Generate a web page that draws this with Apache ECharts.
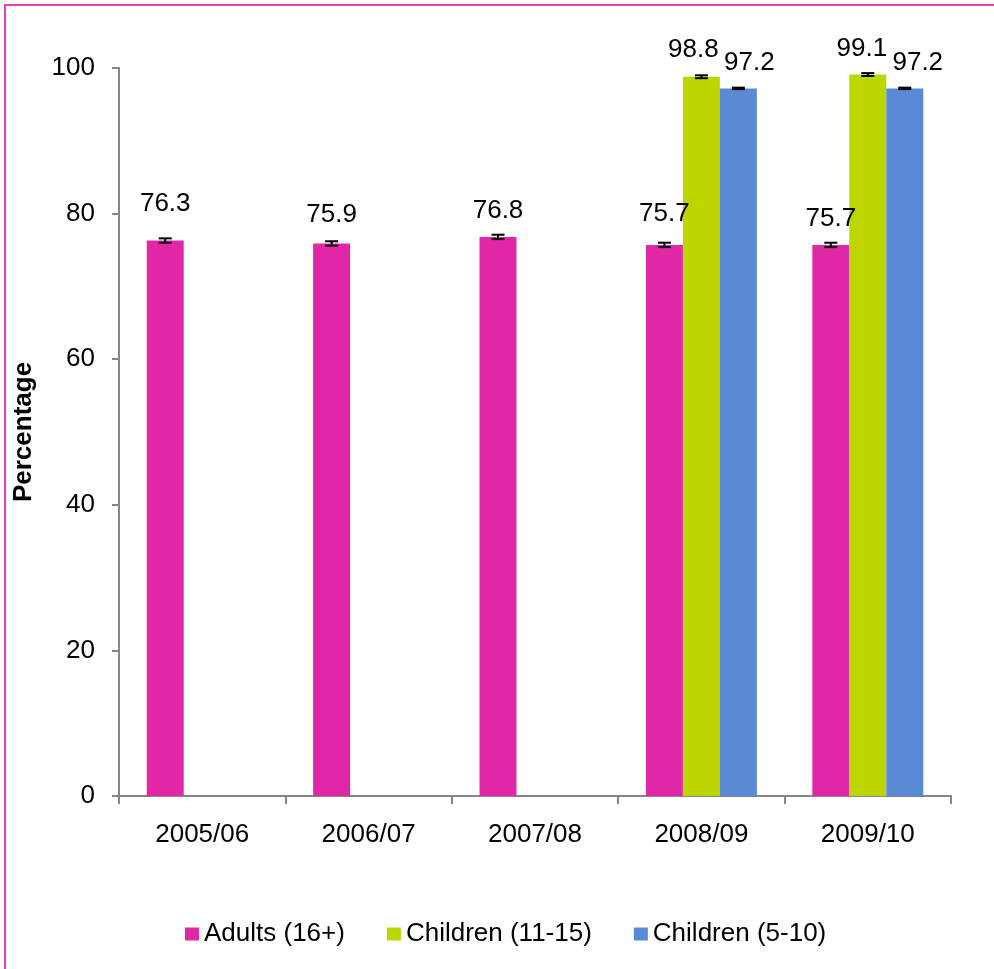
<!DOCTYPE html>
<html>
<head>
<meta charset="utf-8">
<script src="https://cdn.jsdelivr.net/npm/echarts@6/dist/echarts.min.js"></script>
<style>html,body{margin:0;padding:0;background:#fff;}#c{width:994px;height:969px;}</style>
</head>
<body>
<div id="c"></div>
<script>
const categories = ['2005/06', '2006/07', '2007/08', '2008/09', '2009/10'];
const seriesNames = ['Adults (16+)', 'Children (11-15)', 'Children (5-10)'];
const adults = [76.3, 75.9, 76.8, 75.7, 75.7];
const children1115 = [null, null, null, 98.8, 99.1];
const children510 = [null, null, null, 97.2, 97.2];
const adultsErr = [0.3, 0.3, 0.3, 0.3, 0.3];
const children1115Err = [null, null, null, 0.2, 0.2];
const children510Err = [null, null, null, 0.1, 0.1];
const yTicks = [0, 20, 40, 60, 80, 100];

// layout only: label distance above bar and horizontal nudge, per series/point
const labelDistance = [
  [24, 16, 13, 18.5, 13.5],
  [13, 13, 13, 14, 13],
  [13, 13, 13, 13, 13]
];
const labelShiftX = [
  [0, 0, 0, 0, 0],
  [0, 0, 0, -8, -6],
  [0, 0, 0, 11, 13]
];

const colors = ['#E028A6', '#BDD600', '#5A8AD6'];
const FONT = "'Liberation Sans', Arial, sans-serif";
const CAT_GAP = 1 / 3;

const chart = echarts.init(document.getElementById('c'), null, {renderer: 'canvas'});

function barSeries(name, values, idx) {
  return {
    name: name,
    type: 'bar',
    data: values.map((v, i) => v == null ? '-' : {
      value: v,
      label: {distance: labelDistance[idx][i], offset: [labelShiftX[idx][i], 0]}
    }),
    barGap: '0%',
    barCategoryGap: (CAT_GAP * 100) + '%',
    itemStyle: {color: colors[idx]},
    label: {
      show: true, position: 'top',
      color: '#000', fontSize: 26, fontFamily: FONT,
      formatter: p => Number(p.value).toFixed(1)
    },
    z: 2
  };
}

function errSeries(values, errs, idx) {
  const data = [];
  values.forEach((v, i) => { if (v != null) data.push([i, v - errs[i], v + errs[i]]); });
  return {
    type: 'custom',
    name: 'err' + idx,
    data: data,
    encode: {x: 0, y: [1, 2]},
    z: 5,
    silent: true,
    renderItem: function (params, api) {
      const xi = api.value(0);
      const lo = api.coord([xi, api.value(1)]);
      const hi = api.coord([xi, api.value(2)]);
      const catW = api.size([1, 0])[0];
      const bw = catW * (1 - CAT_GAP) / 3;
      const cx = lo[0] + (idx - 1) * bw;
      const half = 6.5;
      const st = {stroke: '#000', lineWidth: 2};
      return {
        type: 'group',
        children: [
          {type: 'line', shape: {x1: cx, y1: lo[1], x2: cx, y2: hi[1]}, style: st},
          {type: 'line', shape: {x1: cx - half, y1: lo[1], x2: cx + half, y2: lo[1]}, style: st},
          {type: 'line', shape: {x1: cx - half, y1: hi[1], x2: cx + half, y2: hi[1]}, style: st}
        ]
      };
    }
  };
}

const option = {
  animation: false,
  backgroundColor: '#fff',
  textStyle: {fontFamily: FONT},
  graphic: [{
    type: 'polyline', z: 100, silent: true,
    shape: {points: [[5, 2000], [5, 5], [2000, 5]]},
    style: {fill: null, stroke: '#E63EB5', lineWidth: 2}
  }],
  grid: {left: 119, right: 43, top: 68, bottom: 173, containLabel: false},
  legend: {
    data: seriesNames,
    left: 185, top: 921, padding: 0,
    itemWidth: 14, itemHeight: 13, itemGap: 42,
    icon: 'rect',
    textStyle: {fontSize: 26, color: '#000', fontFamily: FONT}
  },
  xAxis: {
    type: 'category',
    data: categories,
    axisLine: {lineStyle: {color: '#868686', width: 2}},
    axisTick: {show: true, alignWithLabel: false, length: 8, lineStyle: {color: '#868686', width: 2}},
    axisLabel: {color: '#000', fontSize: 26, fontFamily: FONT, margin: 26},
    splitLine: {show: false}
  },
  yAxis: {
    type: 'value',
    min: yTicks[0], max: yTicks[yTicks.length - 1], interval: 20,
    name: 'Percentage',
    nameLocation: 'middle',
    nameGap: 82,
    nameRotate: 90,
    nameTextStyle: {fontSize: 26, fontWeight: 'bold', color: '#000', fontFamily: FONT},
    axisLine: {show: true, lineStyle: {color: '#868686', width: 2}},
    axisTick: {show: true, length: 7, lineStyle: {color: '#868686', width: 2}},
    axisLabel: {color: '#000', fontSize: 26, fontFamily: FONT, margin: 24},
    splitLine: {show: false}
  },
  series: [
    barSeries(seriesNames[0], adults, 0),
    barSeries(seriesNames[1], children1115, 1),
    barSeries(seriesNames[2], children510, 2),
    errSeries(adults, adultsErr, 0),
    errSeries(children1115, children1115Err, 1),
    errSeries(children510, children510Err, 2)
  ]
};
chart.setOption(option);
</script>
</body>
</html>
